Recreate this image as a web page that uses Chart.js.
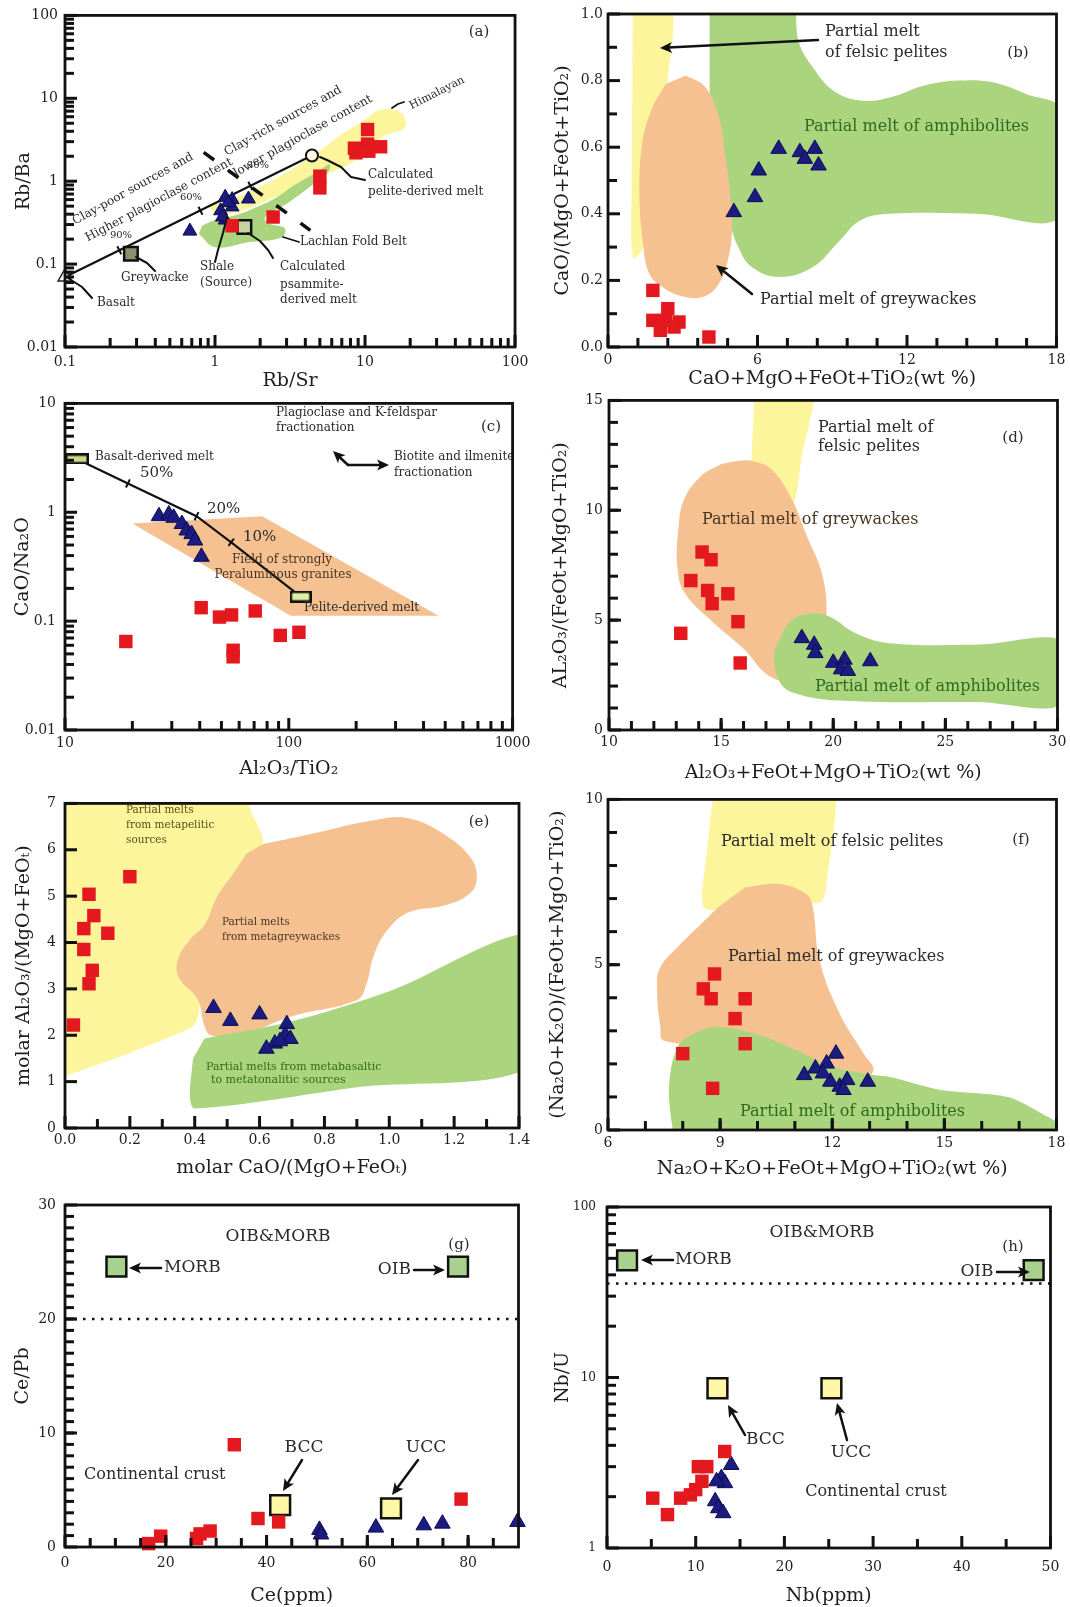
<!DOCTYPE html>
<html><head><meta charset="utf-8">
<title>Source discrimination diagrams (a)-(h)</title>
<script src="https://cdn.jsdelivr.net/npm/chart.js@4.4.1/dist/chart.umd.min.js"></script>
<style>
html,body{margin:0;padding:0;background:#fff;}
body{width:1070px;height:1607px;position:relative;overflow:hidden;}
canvas{position:absolute;}
</style></head><body>
<script>
// ================= DATA =================
// (a) Rb/Sr vs Rb/Ba
const aXTicks=[0.1,1,10,100], aXLabels=['0.1','1','10','100'];
const aYTicks=[0.01,0.1,1,10,100], aYLabels=['0.01','0.1','1','10','100'];
const aRed=[[10.4,4.2],[8.5,2.5],[10.4,2.8],[12.7,2.6],[8.7,2.2],[10.6,2.3],[5.0,1.15],[5.0,0.83],[2.44,0.37],[1.3,0.29]];
const aBlue=[[0.68,0.25],[1.17,0.64],[1.3,0.6],[1.67,0.61],[1.09,0.44],[1.17,0.34],[1.3,0.49],[1.22,0.55],[1.12,0.37]];
const aGreywacke=[[0.275,0.133]], aPsammite=[[1.57,0.28]], aBasalt=[[0.1,0.07]], aPeliteMelt=[[4.43,2.04]];
const aMixLine=[[0.1,0.07],[4.43,2.04]];
const aMixTicks=[[0.23,0.147],[0.8,0.44],[1.72,0.88]];
const aDivider=[[0.84,2.23],[4.32,0.255]];
const aYellow=[[0.9,0.52],[1.85,0.8],[4.4,1.97],[6.3,3.2],[9.5,5.2],[12.7,7.3],[17.3,6.7],[18.5,4.5],[13,3.4],[8.5,1.75],[5.5,1.2],[3.6,0.85],[2.3,0.6],[1.4,0.42],[1.0,0.4]];
const aGreen=[[0.78,0.23],[1.0,0.16],[1.67,0.184],[2.78,0.21],[2.92,0.27],[2.27,0.31],[2.16,0.37],[3.08,0.55],[4.38,0.88],[5.66,1.28],[5.8,1.6],[4.9,1.32],[3.4,0.9],[2.5,0.62],[1.95,0.5],[1.44,0.40],[1.0,0.34],[0.82,0.29]];

// (b) CaO+MgO+FeOt+TiO2 vs CaO/(MgO+FeOt+TiO2)
const bXTicks=[0,6,12,18], bXLabels=['0','6','12','18'];
const bYTicks=[0,0.2,0.4,0.6,0.8,1.0], bYLabels=['0.0','0.2','0.4','0.6','0.8','1.0'];
const bRed=[[1.8,0.17],[2.4,0.115],[1.8,0.08],[2.3,0.08],[2.85,0.075],[2.1,0.05],[2.65,0.06],[4.05,0.03]];
const bBlue=[[5.05,0.405],[5.9,0.45],[6.05,0.53],[6.85,0.595],[7.7,0.585],[8.3,0.595],[7.9,0.565],[8.45,0.545]];
const bYellow=[[1.0,1.05],[2.45,1.05],[2.4,0.8],[2.0,0.55],[1.4,0.3],[1.0,0.27],[0.95,0.5]];
const bPeach=[[3.12,0.815],[3.91,0.78],[4.45,0.69],[4.71,0.57],[4.91,0.45],[4.98,0.36],[4.84,0.27],[4.45,0.19],[3.78,0.15],[2.85,0.155],[2.19,0.18],[1.66,0.22],[1.39,0.32],[1.26,0.47],[1.39,0.62],[1.79,0.72],[2.32,0.79]];
const bGreen=[[4.08,1.05],[7.2,1.05],[7.68,0.91],[8.22,0.84],[9.04,0.77],[10.12,0.74],[11.35,0.75],[12.7,0.785],[14.06,0.8],[15.42,0.795],[16.78,0.76],[18.2,0.71],[18.2,0.395],[14.74,0.4],[11.35,0.4],[10.12,0.38],[9.3,0.32],[8.22,0.24],[6.86,0.21],[5.77,0.24],[5.23,0.3],[4.82,0.39],[4.28,0.54],[4.08,0.74]];

// (c) Al2O3/TiO2 vs CaO/Na2O
const cXTicks=[10,100,1000], cXLabels=['10','100','1000'];
const cYTicks=[0.01,0.1,1,10], cYLabels=['0.01','0.1','1','10'];
const cRed=[[18.7,0.065],[40.6,0.133],[49,0.109],[55.5,0.114],[56.4,0.054],[56.4,0.047],[70.8,0.124],[91.6,0.074],[111,0.079]];
const cBlue=[[26.3,0.92],[29.1,0.955],[30.6,0.89],[33.3,0.78],[35,0.68],[36.8,0.63],[38.1,0.55],[40.7,0.39]];
const cBasaltMelt=[[11.3,3.09]], cPeliteMelt=[[113,0.168]];
const cMixLine=[[11.3,3.09],[19.1,1.84],[38.7,0.92],[55.3,0.53],[113,0.168]];
const cMixTicks=[[19.1,1.84],[38.7,0.92],[55.3,0.53]];
const cPeach=[[20,0.79],[76,0.92],[467,0.112],[102,0.112]];

// (d) Al2O3+FeOt+MgO+TiO2 vs Al2O3/(FeOt+MgO+TiO2)
const dXTicks=[10,15,20,25,30], dXLabels=['10','15','20','25','30'];
const dYTicks=[0,5,10,15], dYLabels=['0','5','10','15'];
const dRed=[[13.2,4.4],[13.65,6.8],[14.15,8.1],[14.55,7.75],[14.4,6.35],[14.6,5.75],[15.3,6.2],[15.75,4.93],[15.85,3.05]];
const dBlue=[[18.6,4.18],[19.15,3.88],[19.2,3.5],[20,3.06],[20.5,3.2],[20.35,2.76],[20.65,2.69],[21.65,3.13]];
const dYellow=[[16.5,15.5],[19.1,15.5],[18.6,12.5],[18.25,10.4],[17.3,10.2],[16.35,12.3]];
const dPeach=[[15.75,12.25],[16.35,12.25],[17.25,11.85],[18.15,10.5],[18.75,9.0],[19.5,7.1],[19.7,5.3],[19.5,4.25],[18.75,2.45],[17.7,2.25],[16.95,2.6],[16.05,3.65],[14.7,4.85],[13.4,6.2],[13.05,7.4],[13.1,9.2],[13.35,10.5],[14.1,11.55],[15.0,12.1]];
const dGreen=[[17.4,3.7],[18.15,5.0],[19.05,5.3],[19.85,5.15],[21.0,4.4],[22.5,3.95],[26.3,3.88],[30.5,3.95],[30.5,1.27],[26.3,1.27],[20.3,1.34],[18.15,1.72],[17.55,2.3],[17.35,3.2]];

// (e) molar CaO/(MgO+FeOt) vs molar Al2O3/(MgO+FeOt)
const eXTicks=[0,0.2,0.4,0.6,0.8,1.0,1.2,1.4], eXLabels=['0.0','0.2','0.4','0.6','0.8','1.0','1.2','1.4'];
const eYTicks=[0,1,2,3,4,5,6,7], eYLabels=['0','1','2','3','4','5','6','7'];
const eRed=[[0.026,2.22],[0.074,5.04],[0.089,4.58],[0.058,4.3],[0.132,4.2],[0.058,3.85],[0.084,3.4],[0.074,3.11],[0.2,5.42]];
const eBlue=[[0.458,2.59],[0.51,2.31],[0.6,2.45],[0.684,2.24],[0.679,2.0],[0.647,1.82],[0.621,1.71],[0.695,1.92],[0.663,1.87]];
const eYellow=[[-0.05,7.3],[0.53,7.3],[0.585,6.65],[0.61,6.25],[0.6,5.9],[0.45,4.2],[0.41,2.4],[0.39,2.17],[0.2,1.62],[-0.05,1.0]];
const ePeach=[[0.61,6.12],[0.75,6.33],[0.96,6.65],[1.06,6.68],[1.17,6.33],[1.25,5.84],[1.27,5.42],[1.25,5.07],[1.17,4.8],[1.06,4.65],[0.99,4.23],[0.95,3.67],[0.93,3.11],[0.9,2.76],[0.7,2.41],[0.54,2.0],[0.45,2.0],[0.43,2.2],[0.41,2.76],[0.35,3.26],[0.35,3.67],[0.39,4.1],[0.43,4.37],[0.47,5.0],[0.52,5.5],[0.56,5.92]];
const eGreen=[[0.43,1.93],[0.7,2.3],[1.0,2.95],[1.45,4.15],[1.45,1.4],[0.9,0.88],[0.4,0.42],[0.385,0.7],[0.395,1.5]];

// (f) Na2O+K2O+FeOt+MgO+TiO2 vs (Na2O+K2O)/(FeOt+MgO+TiO2)
const fXTicks=[6,9,12,15,18], fXLabels=['6','9','12','15','18'];
const fYTicks=[0,5,10], fYLabels=['0','5','10'];
const fRed=[[8.85,4.72],[8.55,4.27],[8.76,3.97],[9.67,3.97],[9.4,3.37],[9.67,2.61],[8.0,2.31],[8.8,1.26]];
const fBlue=[[12.1,2.31],[11.85,2.01],[11.55,1.86],[11.25,1.66],[11.95,1.46],[12.2,1.31],[12.4,1.51],[12.3,1.21],[12.95,1.46],[11.75,1.71]];
const fYellow=[[8.85,10.5],[12.0,10.5],[11.85,7.5],[11.7,6.9],[8.6,6.7],[8.65,8.5]];
const fPeach=[[9.67,7.34],[10.57,7.44],[11.3,7.14],[11.48,6.73],[11.66,5.13],[12.2,3.52],[12.84,2.31],[13.1,1.81],[12.66,1.5],[9.5,2.5],[7.5,2.7],[7.4,3.12],[7.31,4.32],[7.4,4.92],[7.86,5.53],[8.58,6.33],[8.94,6.73]];
const fGreen=[[7.77,-0.3],[7.63,1.0],[7.68,1.81],[7.86,2.51],[8.13,2.81],[8.85,3.12],[9.94,2.91],[10.85,2.51],[12.0,1.91],[13.1,1.66],[13.55,1.6],[14.9,1.21],[16.7,1.0],[17.6,0.5],[18.3,0.0],[18.3,-0.3]];

// (g) Ce vs Ce/Pb
const gXTicks=[0,20,40,60,80], gXLabels=['0','20','40','60','80'];
const gYTicks=[0,10,20,30], gYLabels=['0','10','20','30'];
const gRed=[[16.6,0.3],[19,0.95],[26.1,0.75],[26.8,1.15],[28.8,1.4],[33.6,8.97],[38.3,2.5],[42.4,2.2],[78.6,4.2]];
const gBlue=[[50.5,1.5],[50.8,1.1],[61.7,1.7],[71.2,1.9],[74.9,2.05],[89.8,2.2]];
const gMORB=[[10.2,24.6]], gOIB=[[78,24.6]], gBCC=[[42.7,3.68]], gUCC=[[64.7,3.38]];
const gLimit=[[0,20],[90,20]];

// (h) Nb vs Nb/U
const hXTicks=[0,10,20,30,40,50], hXLabels=['0','10','20','30','40','50'];
const hYTicks=[1,10,100], hYLabels=['1','10','100'];
const hRed=[[5.16,1.96],[6.82,1.57],[8.3,1.96],[9.4,2.05],[10.0,2.2],[10.7,2.46],[10.3,3.0],[11.25,3.0],[13.27,3.68]];
const hBlue=[[14.0,3.07],[12.9,2.57],[13.3,2.4],[12.35,2.46],[12.2,1.88],[12.55,1.71],[13.1,1.6]];
const hMORB=[[2.26,48.7]], hOIB=[[48.1,42.6]], hBCC=[[12.45,8.65]], hUCC=[[25.3,8.65]];
const hLimit=[[0,35.6],[50,35.6]];

// ================= STYLE / HELPERS =================
const FONT="'DejaVu Serif','Liberation Serif',serif";
const RED='#e3191f', BLUE='#1c1c80', YEL='#fcf59b', PEA='#f5c190', GRN='#abd47f';
const TX='#2b2b2b', GT='#2f6b1e', BT='#4a3522', OT='#55501f';
Chart.defaults.font.family=FONT;

const logMinor=(lo,hi)=>{const r=[];for(let d=lo;d<hi*0.999;d*=10)for(let k=2;k<10;k++)r.push(+(d*k).toPrecision(3));return r;};
const lin=(a,b,s)=>{const r=[];for(let v=a;v<=b+1e-9;v+=s)r.push(+v.toFixed(4));return r;};
const P=a=>a.map(([x,y])=>({x,y}));
const pts=(a,style,r,bg,bc,bw)=>({type:'scatter',data:P(a),pointStyle:style,pointRadius:r,pointHoverRadius:r,backgroundColor:bg,borderColor:bc,borderWidth:bw,clip:false,order:0});
const red=a=>pts(a,'rect',9.5,RED,RED,0);
const blue=(a,r)=>pts(a,'triangle',r||9,BLUE,'#0c0c55',1);
const box=(a,fill,r)=>pts(a,'rect',r||14,fill,'#111',2.5);
const region=(a,color,order,tension)=>({type:'line',data:P(a),fill:'shape',backgroundColor:color,borderColor:color,borderWidth:0,pointRadius:0,pointHoverRadius:0,tension:tension===undefined?0.4:tension,order});
const line=(a,w,dash,order)=>({type:'line',data:P(a),fill:false,borderColor:'#111',borderWidth:w,borderDash:dash||[],pointRadius:0,pointHoverRadius:0,tension:0,order:order||1});
function boxImg(w,h,fill){const c=document.createElement('canvas');c.width=w;c.height=h;const g=c.getContext('2d');g.fillStyle=fill;g.fillRect(0,0,w,h);g.lineWidth=2.5;g.strokeStyle='#111';g.strokeRect(1.25,1.25,w-2.5,h-2.5);return c;}
const T=(x,y,s,fs,al,c,rot)=>({t:'T',x,y,s,fs,al:al||'left',c:c||TX,rot:rot||0});
const L=(p,w,arr)=>({t:'L',p,w:w||2,arr:!!arr});

function drawFrame(chart,cfg){
  const ctx=chart.ctx, a=chart.chartArea, xs=chart.scales.x, ys=chart.scales.y;
  ctx.save();
  ctx.fillStyle='#111111';
  const W=3;
  const tk=(vals,len,isX)=>{for(const v of vals){
      if(isX){const p=xs.getPixelForValue(v);ctx.fillRect(p-W/2,a.bottom-len,W,len);}
      else{const p=ys.getPixelForValue(v);ctx.fillRect(a.left,p-W/2,len,W);}}};
  tk(cfg.xTk,12,true);tk(cfg.xMn,9,true);tk(cfg.yTk,12,false);tk(cfg.yMn,9,false);
  ctx.strokeStyle='#111111';ctx.lineWidth=2.8;ctx.strokeRect(a.left,a.top,a.right-a.left,a.bottom-a.top);
  ctx.restore();
}

function drawNotes(chart,cfg){
  const ctx=chart.ctx, xs=chart.scales.x, ys=chart.scales.y;
  ctx.save();
  if(cfg.mix){
    const ln=cfg.mix.line.map(([x,y])=>[xs.getPixelForValue(x),ys.getPixelForValue(y)]);
    cfg.mix.ticks.forEach(([x,y])=>{
      const px=xs.getPixelForValue(x), py=ys.getPixelForValue(y);
      let best=0,bd=1e9;
      for(let i=0;i<ln.length-1;i++){
        const ax=ln[i][0],ay=ln[i][1],bx=ln[i+1][0],by=ln[i+1][1];
        const dx=bx-ax,dy=by-ay; let t=((px-ax)*dx+(py-ay)*dy)/(dx*dx+dy*dy); t=Math.max(0,Math.min(1,t));
        const d=Math.hypot(ax+t*dx-px,ay+t*dy-py); if(d<bd){bd=d;best=i;}
      }
      const dx=ln[best+1][0]-ln[best][0], dy=ln[best+1][1]-ln[best][1], Ln=Math.hypot(dx,dy);
      const nx=-dy/Ln, ny=dx/Ln, h=4.5;
      ctx.beginPath();ctx.moveTo(px-nx*h,py-ny*h);ctx.lineTo(px+nx*h,py+ny*h);
      ctx.lineWidth=2;ctx.strokeStyle='#111';ctx.stroke();
    });
  }
  const ox=cfg.left, oy=cfg.top;
  for(const n of cfg.notes){
    if(n.t==='T'){
      ctx.save();ctx.translate(n.x-ox,n.y-oy);if(n.rot)ctx.rotate(n.rot*Math.PI/180);
      ctx.font=n.fs+'px '+FONT;ctx.fillStyle=n.c;ctx.textAlign=n.al;ctx.textBaseline='middle';
      ctx.fillText(n.s,0,0);ctx.restore();
    } else {
      const p=n.p.map(q=>[q[0]-ox,q[1]-oy]);
      const end=p[p.length-1].slice(); const pre=p[p.length-2];
      const ang=Math.atan2(end[1]-pre[1],end[0]-pre[0]);
      const hl=12, hw=5.5;
      const stroke=p.map(q=>q.slice());
      if(n.arr){stroke[stroke.length-1]=[end[0]-Math.cos(ang)*hl*0.7,end[1]-Math.sin(ang)*hl*0.7];}
      ctx.save();
      ctx.beginPath();stroke.forEach((q,i)=>i?ctx.lineTo(q[0],q[1]):ctx.moveTo(q[0],q[1]));
      ctx.lineWidth=n.w;ctx.strokeStyle='#111';ctx.lineCap='round';ctx.lineJoin='round';ctx.stroke();
      if(n.arr){
        const c=Math.cos(ang), s=Math.sin(ang);
        ctx.beginPath();ctx.moveTo(end[0],end[1]);
        ctx.lineTo(end[0]-hl*c+hw*s,end[1]-hl*s-hw*c);
        ctx.lineTo(end[0]-hl*c*0.75,end[1]-hl*s*0.75);
        ctx.lineTo(end[0]-hl*c-hw*s,end[1]-hl*s+hw*c);
        ctx.closePath();ctx.fillStyle='#111';ctx.fill();
      }
      ctx.restore();
    }
  }
  ctx.restore();
}

function makePanel(cfg){
  cfg.xTk=cfg.x.ticks.slice(); cfg.xMn=(cfg.x.minor||[]).slice();
  cfg.yTk=cfg.y.ticks.slice(); cfg.yMn=(cfg.y.minor||[]).slice();
  const cv=document.createElement('canvas');
  cv.width=cfg.w;cv.height=cfg.h;
  cv.style.left=cfg.left+'px';cv.style.top=cfg.top+'px';cv.style.width=cfg.w+'px';cv.style.height=cfg.h+'px';
  document.body.appendChild(cv);
  const axis=(ax,isX)=>({
    type:ax.type,min:ax.min,max:ax.max,position:isX?'bottom':'left',bounds:'data',
    afterBuildTicks:s=>{s.ticks=ax.ticks.map(v=>({value:v}));},
    afterFit:s=>{if(isX)s.height=cfg.xH;else s.width=cfg.yW;},
    grid:{display:false,drawTicks:false,tickLength:0},
    border:{display:false},
    ticks:{autoSkip:false,maxRotation:0,minRotation:0,padding:ax.lpad,color:'#1e1e1e',font:{family:FONT,size:ax.fs||14},callback:(v,i)=>ax.labels[i]},
    title:{display:true,text:ax.title,color:'#1e1e1e',font:{family:FONT,size:19},padding:isX?{top:0,bottom:ax.tpad}:{top:ax.tpad,bottom:0}}
  });
  new Chart(cv,{
    type:'scatter',
    data:{datasets:cfg.datasets},
    options:{
      responsive:false,animation:false,events:[],devicePixelRatio:1,
      layout:{padding:{top:cfg.pt,right:cfg.pr,left:0,bottom:0}},
      scales:{x:axis(cfg.x,true),y:axis(cfg.y,false)},
      plugins:{legend:{display:false},tooltip:{enabled:false}}
    },
    plugins:[{id:'notes',afterDatasetsDraw(chart){drawNotes(chart,cfg);}},
             {id:'frame',afterDraw(chart){drawFrame(chart,cfg);}}]
  });
}

// ================= PANELS =================
const panels=[
{left:0,top:0,w:535,h:392,pt:14,pr:16,yW:65,xH:45,
 x:{type:'logarithmic',min:0.1,max:100,ticks:aXTicks,labels:aXLabels,minor:logMinor(0.1,100),lpad:6.6,title:'Rb/Sr',tpad:0},
 y:{type:'logarithmic',min:0.01,max:100,ticks:aYTicks,labels:aYLabels,minor:logMinor(0.01,100),lpad:7,title:'Rb/Ba',tpad:13},
 datasets:[red(aRed),blue(aBlue,8),
   box(aGreywacke,'#8e8e70',9.6),box(aPsammite,'#c6d39a',9.6),
   pts(aBasalt,'triangle',8,'#ffffff','#222',1.5),
   pts(aPeliteMelt,'circle',6,'#fffde0','#111',2),
   line(aMixLine,2.2,[],1),line(aDivider,3.5,[13,17],1),
   region(aGreen,GRN,4),region(aYellow,YEL,5)],
 mix:{line:aMixLine,ticks:aMixTicks},
 notes:[T(479,32,'(a)',15,'center'),
   T(133,189,'Clay-poor sources and',12,'center',TX,-29),T(159,200,'Higher plagioclase content',12,'center',TX,-28),
   T(283,121,'Clay-rich sources and',12,'center',TX,-29),T(303,136,'lower plagioclase content',12,'center',TX,-29),
   T(437,93,'Himalayan',11,'center',TX,-27),L([[392,108],[398,104],[404,102]],1.8),
   T(368,175,'Calculated',12),T(368,192,'pelite-derived melt',12),
   L([[320,157],[327,160],[341,167],[351,177],[365,180]],2),
   T(300,242,'Lachlan Fold Belt',12),L([[283,237],[299,242]],1.8),
   T(200,267,'Shale',12),T(200,283,'(Source)',12),L([[227,217],[223,233],[218,250],[215,262]],2),
   T(280,267,'Calculated',12),T(280,285,'psammite-',12),T(280,300,'derived melt',12),
   L([[248,233],[260,241],[268,250],[273,258]],2),
   T(121,278,'Greywacke',12),L([[136,257],[147,263],[155,271]],2),
   T(97,303,'Basalt',12),L([[68,278],[82,287],[92,298]],2),
   T(121,235,'90%',10,'center'),T(191,197,'60%',10,'center'),T(258,165,'30%',10,'center')]},
{left:535,top:0,w:535,h:392,pt:14,pr:10,yW:73,xH:45,
 x:{type:'linear',min:0,max:18,ticks:bXTicks,labels:bXLabels,minor:[1.2,2.4,3.6,4.8,7.2,8.4,9.6,10.8,13.2,14.4,15.6,16.8],lpad:4.6,title:'CaO+MgO+FeOt+TiO₂(wt %)',tpad:1.4},
 y:{type:'linear',min:0,max:1,ticks:bYTicks,labels:bYLabels,minor:[0.1,0.3,0.5,0.7,0.9],lpad:5,title:'CaO/(MgO+FeOt+TiO₂)',tpad:16.4},
 datasets:[red(bRed),blue(bBlue),region(bPeach,PEA,3),region(bGreen,GRN,4),region(bYellow,YEL,5)],
 notes:[T(825,32,'Partial melt',16),T(825,53,'of felsic pelites',16),L([[818,40],[660,48]],2.5,true),
   T(1018,53,'(b)',15,'center'),T(804,127,'Partial melt of amphibolites',16,'left',GT),
   T(760,300,'Partial melt of greywackes',16),L([[752,294],[716,265]],2.5,true)]},
{left:0,top:386,w:535,h:400,pt:11,pr:16,yW:65,xH:56,
 x:{type:'logarithmic',min:10,max:1000,ticks:cXTicks,labels:cXLabels,minor:logMinor(10,1000),lpad:4.6,title:'Al₂O₃/TiO₂',tpad:5.4},
 y:{type:'logarithmic',min:0.01,max:10,ticks:cYTicks,labels:cYLabels,minor:logMinor(0.01,10),lpad:9,title:'CaO/Na₂O',tpad:11.4},
 datasets:[red(cRed),blue(cBlue),
   pts(cBasaltMelt,boxImg(24,11,'#c8db8a'),6,'#c8db8a','#111',0),
   pts(cPeliteMelt,boxImg(22,12,'#e4eda6'),6,'#e4eda6','#111',0),
   line(cMixLine,2.2,[],1),region(cPeach,PEA,4,0)],
 mix:{line:cMixLine,ticks:cMixTicks},
 notes:[T(276,413,'Plagioclase and K-feldspar',12),T(276,428,'fractionation',12),
   T(491,427,'(c)',15,'center'),
   L([[348,465],[333,451]],2.5,true),L([[348,465],[389,465]],2.5,true),
   T(394,457,'Biotite and ilmenite',12),T(394,473,'fractionation',12),
   T(95,457,'Basalt-derived melt',12),
   T(140,473,'50%',15),T(207,509,'20%',15),T(243,537,'10%',15),
   T(282,560,'Field of strongly',12,'center',BT),T(283,575,'Peraluminous granites',12,'center',BT),
   T(304,608,'Pelite-derived melt',12)]},
{left:535,top:386,w:535,h:400,pt:9,pr:8,yW:74,xH:56,
 x:{type:'linear',min:10,max:30,ticks:dXTicks,labels:dXLabels,minor:lin(11,29,1),lpad:3.6,title:'Al₂O₃+FeOt+MgO+TiO₂(wt %)',tpad:1.4},
 y:{type:'linear',min:0,max:15,ticks:dYTicks,labels:dYLabels,minor:lin(1,14,1),lpad:6,title:'AL₂O₃/(FeOt+MgO+TiO₂)',tpad:14.4},
 datasets:[red(dRed),blue(dBlue),region(dGreen,GRN,3),region(dPeach,PEA,4),region(dYellow,YEL,5,0.2)],
 notes:[T(818,428,'Partial melt of',16),T(818,447,'felsic pelites',16),T(1013,438,'(d)',15,'center'),
   T(702,520,'Partial melt of greywackes',16,'left',BT),T(815,687,'Partial melt of amphibolites',16,'left',GT)]},
{left:0,top:786,w:535,h:400,pt:9,pr:16,yW:65,xH:58,
 x:{type:'linear',min:0,max:1.4,ticks:eXTicks,labels:eXLabels,minor:[0.1,0.3,0.5,0.7,0.9,1.1,1.3],lpad:3.6,title:'molar CaO/(MgO+FeOₜ)',tpad:6.4},
 y:{type:'linear',min:0,max:7,ticks:eYTicks,labels:eYLabels,minor:[],lpad:9,title:'molar Al₂O₃/(MgO+FeOₜ)',tpad:13},
 datasets:[red(eRed),blue(eBlue),region(eGreen,GRN,3,0.3),region(ePeach,PEA,4),region(eYellow,YEL,5,0.25)],
 notes:[T(126,810,'Partial melts',10.5,'left',OT),T(126,825,'from metapelitic',10.5,'left',OT),T(126,840,'sources',10.5,'left',OT),
   T(479,822,'(e)',15,'center'),
   T(222,922,'Partial melts',10.5,'left',BT),T(222,937,'from metagreywackes',10.5,'left',BT),
   T(206,1067,'Partial melts from metabasaltic',11,'left',GT),T(211,1080,'to metatonalitic sources',11,'left',GT)]},
{left:535,top:786,w:535,h:400,pt:12,pr:10,yW:73,xH:56,
 x:{type:'linear',min:6,max:18,ticks:fXTicks,labels:fXLabels,minor:lin(7,17,1),lpad:4.6,title:'Na₂O+K₂O+FeOt+MgO+TiO₂(wt %)',tpad:5.4},
 y:{type:'linear',min:0,max:10,ticks:fYTicks,labels:fYLabels,minor:lin(1,9,1),lpad:5,title:'(Na₂O+K₂O)/(FeOt+MgO+TiO₂)',tpad:11.4},
 datasets:[red(fRed),blue(fBlue),region(fGreen,GRN,3,0.3),region(fPeach,PEA,4),region(fYellow,YEL,5,0.2)],
 notes:[T(721,842,'Partial melt of felsic pelites',16),T(1021,840,'(f)',15,'center'),
   T(728,957,'Partial melt of greywackes',16),T(740,1112,'Partial melt of amphibolites',16,'left',GT)]},
{left:0,top:1186,w:535,h:421,pt:19,pr:15,yW:65,xH:60,
 x:{type:'linear',min:0,max:90,ticks:gXTicks,labels:gXLabels,minor:lin(5,85,5),lpad:7.6,title:'Ce(ppm)',tpad:0},
 y:{type:'linear',min:0,max:30,ticks:gYTicks,labels:gYLabels,minor:lin(1,29,1),lpad:9,title:'Ce/Pb',tpad:11.4},
 datasets:[red(gRed),blue(gBlue),box(gMORB,'#a9d18e'),box(gOIB,'#a9d18e'),box(gBCC,'#fdf7a6'),box(gUCC,'#fdf7a6'),
   line(gLimit,2.5,[2.5,6.5],1)],
 notes:[T(278,1237,'OIB&MORB',17,'center'),T(459,1245,'(g)',15,'center'),
   T(164,1268,'MORB',17),L([[161,1268],[129,1268]],2.5,true),
   T(411,1270,'OIB',17,'right'),L([[414,1270],[445,1270]],2.5,true),
   T(304,1448,'BCC',17,'center'),L([[302,1460],[283,1491]],2.5,true),
   T(426,1448,'UCC',17,'center'),L([[418,1460],[392,1495]],2.5,true),
   T(84,1475,'Continental crust',16)]},
{left:535,top:1186,w:535,h:421,pt:21,pr:10,yW:72,xH:59,
 x:{type:'linear',min:0,max:50,ticks:hXTicks,labels:hXLabels,minor:[5,15,25,35,45],lpad:10.6,title:'Nb(ppm)',tpad:0},
 y:{type:'logarithmic',min:1,max:100,ticks:hYTicks,labels:hYLabels,minor:logMinor(1,100),lpad:11,fs:12,title:'Nb/U',tpad:16.4},
 datasets:[red(hRed),blue(hBlue),box(hMORB,'#a9d18e'),box(hOIB,'#a9d18e'),box(hBCC,'#fdf7a6'),box(hUCC,'#fdf7a6'),
   line(hLimit,2.5,[2.5,6.5],1)],
 notes:[T(822,1233,'OIB&MORB',17,'center'),T(1013,1247,'(h)',15,'center'),
   T(675,1260,'MORB',17),L([[673,1260],[641,1260]],2.5,true),
   T(977,1272,'OIB',17,'center'),L([[997,1272],[1030,1272]],2.5,true),
   T(746,1440,'BCC',17),L([[745,1435],[728,1405]],2.5,true),
   T(851,1453,'UCC',17,'center'),L([[847,1440],[837,1403]],2.5,true),
   T(876,1492,'Continental crust',16,'center')]}
];
panels.forEach(makePanel);
</script>
</body></html>
